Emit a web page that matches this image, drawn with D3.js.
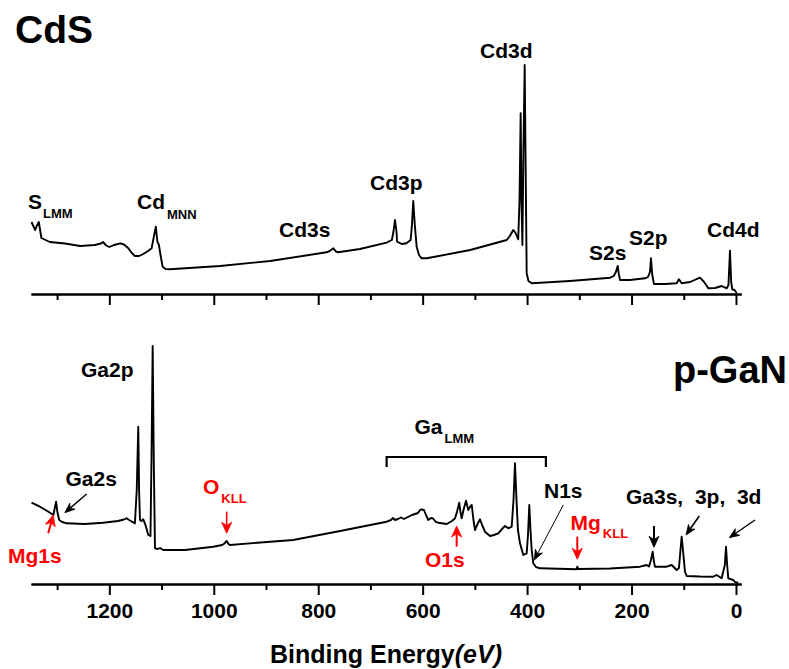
<!DOCTYPE html>
<html>
<head>
<meta charset="utf-8">
<script src="https://cdn.jsdelivr.net/npm/d3@7"></script>
<style>
  html, body { margin: 0; padding: 0; background: #fff; }
  svg { display: block; }
  text { font-family: "Liberation Sans", Arial, Helvetica, sans-serif; font-weight: bold; }
</style>
</head>
<body>
<svg id="chart" width="789" height="669"></svg>
<script>
// XPS survey spectra: binding energy (eV) vs. intensity (a.u.)
const energyCdS = [1349,1342,1339,1335,1332,1330,1314,1285,1256,1228,1216,1212,1206,1200,1191,1179,1172,1164,1157,1151,1143,1135,1126,1119,1116,1111,1108,1105,1102,1098,1092,1084,988,892,784,778,771,766,762,720,669,659,656,653,650,649,640,631,623,620.5,618,615,611.5,607,602,592,509,439,433,426.5,422,417,414.5,412.3,410.8,409,407,404.6,402.7,400.8,397.4,391,318,241,234,230,226.5,224.4,222,203,174,168.5,164.7,162.8,160.3,157,136,113.6,109.2,104,88,69,61,53,40,27.4,17.8,14.4,11.5,9.2,7.1,2.9,-1.3];
const countsCdS = [72,64,68,72,62,56,52,50.5,48,49,50.5,52,48.5,47,49,50.7,49.5,46,41,38,38,40,43,45.7,54,67.3,52.3,49,39,27.3,25,24.7,28,33,41.7,43,45.7,42.5,41.7,45,51.3,54,62,74,62,52.3,50,50.7,54,69,93,69,47.3,39,35.7,35.7,44,54,58,64,61,54.7,94,180.7,94,49,144,229,124,20.7,13,10.7,13,16.3,18,22,28,20,14,14,15.7,17,22,35.7,19,10,10,10.7,14.7,10.7,12,16.3,12,5.7,6,8,5.7,9,43.3,12,4.7,4,1];

const energyGaN = [1349,1333,1319,1307,1304.5,1302,1299.5,1296,1290,1282,1247,1212,1183.5,1172,1167,1160.5,1151,1147.5,1144.6,1143,1141.3,1138.5,1135,1130.8,1125.4,1121.2,1119.3,1117,1114.9,1112.6,1107,1103,1096.7,1055,1001,984,979.5,975.3,971.7,969,892,848,758,669,660.7,656.8,653,647.3,641.5,635.8,620.5,609,605,602,597.5,593.6,589.2,584,580.2,574.5,570,554,543.8,538,534.3,530,527.6,525.3,521.8,517,512.6,509.4,506,502.7,499.8,494,490.2,485.4,480.7,471,463.4,455.2,448,442.4,436,429.5,426,423.2,420.3,417.5,413.6,407.3,400.8,398.3,395.8,393.5,391.2,388.2,383,375.3,305,303.9,301.6,241.3,183.8,171,166.6,162.8,159.5,157,155.1,132.7,123.1,113.6,109.2,106.3,104,101.5,97.7,94.4,69,43.5,37,27.4,21.4,19.1,16.9,14.7,5.2,1.9,-4.4];
const countsGaN = [81.3,77.3,73,69,76,82.3,72,64,62,60.7,60,61.3,63,64.5,65.7,63.5,60.7,94,157.3,94,64,63,64.7,59,49,48,124,238,124,35.7,35,36,34,34,37.3,39,40.5,43,40,39,42.3,44,53,62.3,64,66,64,65,66.5,65,69,71,74,74.7,74,69,64,66,65.5,62,61.3,60,63,65.7,72,81.3,72,65.7,74,83.3,74,77,79,64,54,61,64.7,58,52.3,48,49,50.7,55,58,55.7,57.3,84,120.7,84,54,40.7,29,30.7,49,79,54,34,20.7,17,15.7,14.7,17.3,15,15.5,17.3,19,17.5,24,32.3,22,17.3,17.3,19,14,16,34,47.3,34,12.3,8,7.5,7.3,9,5.7,19,37.3,19,5.7,4,2,1];

// axis ticks (eV)
const majorTicks = [1200, 1000, 800, 600, 400, 200, 0];
const minorTicks = [1300, 1100, 900, 700, 500, 300, 100];

const svg = d3.select("#chart");

const x = d3.scaleLinear().domain([1350, -10]).range([31, 741.2]);
const yTop = d3.scaleLinear().domain([0, 229]).range([294, 65]);
const yBot = d3.scaleLinear().domain([0, 238]).range([584, 346]);

function drawAxis(yPos, labels) {
  const gMinor = svg.append("g").attr("transform", `translate(0,${yPos})`)
    .call(d3.axisBottom(x).tickValues(minorTicks).tickSize(6).tickSizeOuter(0).tickFormat(""));
  const gMajor = svg.append("g").attr("transform", `translate(0,${yPos})`)
    .call(d3.axisBottom(x).tickValues(majorTicks).tickSize(11).tickSizeOuter(0)
      .tickFormat(labels ? d3.format("d") : ""));
  [gMinor, gMajor].forEach(g => {
    g.selectAll("path.domain").attr("stroke", "#000").attr("stroke-width", 2);
    g.selectAll(".tick line").attr("stroke", "#000").attr("stroke-width", 2);
  });
  gMajor.selectAll(".tick text")
    .attr("y", 34).attr("dy", null)
    .attr("fill", "#000")
    .style("font-size", "21px")
    .style("font-family", "'Liberation Sans', Arial, sans-serif")
    .style("font-weight", "bold");
}

drawAxis(294, false);
drawAxis(584, true);

function drawSpectrum(energy, counts, yScale) {
  const pts = energy.map((e, i) => [e, counts[i]]);
  svg.append("path")
    .datum(pts)
    .attr("fill", "none")
    .attr("stroke", "#000")
    .attr("stroke-width", 1.9)
    .attr("stroke-linejoin", "round")
    .attr("d", d3.line().x(d => x(d[0])).y(d => yScale(d[1])));
}
drawSpectrum(energyCdS, countsCdS, yTop);
drawSpectrum(energyGaN, countsGaN, yBot);

// text helpers
function label(px, py, txt, size, color) {
  return svg.append("text").attr("x", px).attr("y", py)
    .attr("fill", color || "#000").style("font-size", size + "px").text(txt);
}
function subLabel(px, py, main, sub, subDx, subDy, color) {
  const t = svg.append("text").attr("x", px).attr("y", py).attr("fill", color || "#000")
    .style("font-size", "21px");
  t.append("tspan").text(main);
  t.append("tspan").attr("dx", subDx).attr("dy", subDy).style("font-size", "13px").text(sub);
}

// panel titles
label(15, 43, "CdS", 39);
label(673, 383, "p-GaN", 38);

// CdS peak labels
subLabel(28, 209, "S", "LMM", 1, 9);
subLabel(137, 209, "Cd", "MNN", 2, 10);
label(279, 237, "Cd3s", 21);
label(370, 190, "Cd3p", 21);
label(480, 58, "Cd3d", 21);
label(589, 260, "S2s", 21);
label(629, 245, "S2p", 21);
label(707, 236.5, "Cd4d", 21);

// p-GaN peak labels
label(81, 376.5, "Ga2p", 21);
label(65.5, 486, "Ga2s", 21);
label(8, 563, "Mg1s", 21, "#ff0000");
subLabel(203, 494, "O", "KLL", 2, 9, "#ff0000");
subLabel(414.5, 434, "Ga", "LMM", 2, 9);
label(544, 498, "N1s", 21);
subLabel(570.5, 530, "Mg", "KLL", 2, 7.5, "#ff0000");
label(425, 566.5, "O1s", 21, "#ff0000");
svg.append("text").attr("x", 626).attr("y", 504).attr("fill", "#000")
  .style("font-size", "21px").attr("xml:space", "preserve")
  .style("white-space", "pre").text("Ga3s,  3p,  3d");

// arrows: tail and tip given in energy / intensity of the panel
function arrow(e1, i1, e2, i2, yScale, color, width, head) {
  const x1 = x(e1), y1 = yScale(i1), x2 = x(e2), y2 = yScale(i2);
  const ang = Math.atan2(y2 - y1, x2 - x1);
  const L = head.len, W = head.wid;
  const bx = x2 - L * Math.cos(ang), by = y2 - L * Math.sin(ang);
  const nx = -Math.sin(ang), ny = Math.cos(ang);
  const notchX = x2 - L * 0.7 * Math.cos(ang), notchY = y2 - L * 0.7 * Math.sin(ang);
  svg.append("line")
    .attr("x1", x1).attr("y1", y1).attr("x2", notchX).attr("y2", notchY)
    .attr("stroke", color).attr("stroke-width", width);
  svg.append("path")
    .attr("d", `M${x2},${y2} L${bx + nx * W / 2},${by + ny * W / 2} L${notchX},${notchY} L${bx - nx * W / 2},${by - ny * W / 2} Z`)
    .attr("fill", color).attr("stroke", color).attr("stroke-width", 0.8)
    .attr("stroke-linejoin", "round");
}
const red = "#ff0000";
const bigHead = { len: 11, wid: 10 };
const smallHead = { len: 10, wid: 8 };
arrow(1243.4, 90, 1285.3, 71.3, yBot, "#000", 1.4, smallHead);     // Ga2s
arrow(1317, 50.7, 1307.5, 69, yBot, red, 2, bigHead);             // Mg1s
arrow(975.3, 72.3, 975.3, 50.7, yBot, red, 1.6, bigHead);          // O KLL
arrow(534.9, 37.3, 534.9, 58, yBot, red, 2, bigHead);              // O1s
arrow(330.7, 79, 386.3, 24, yBot, "#000", 1, smallHead);           // N1s
arrow(303.9, 47.3, 303.9, 24.7, yBot, red, 2, bigHead);            // Mg KLL
arrow(157, 58, 157, 36.7, yBot, "#000", 2, bigHead);               // Ga3s
arrow(70.3, 68, 95.7, 49, yBot, "#000", 1.6, smallHead);           // Ga3p
arrow(-36.4, 64, 12.8, 46.3, yBot, "#000", 1.4, smallHead);        // Ga3d

// bracket spanning the Ga LMM Auger region
const bL = x(669), bR = x(364), bY = yBot(127), bLeg = yBot(117);
svg.append("path")
  .attr("d", `M${bL},${bLeg} L${bL},${bY} L${bR},${bY} L${bR},${bLeg}`)
  .attr("fill", "none").attr("stroke", "#000").attr("stroke-width", 2.2);

// axis title
const title = svg.append("text").attr("x", 270).attr("y", 663).attr("fill", "#000")
  .style("font-size", "25px");
title.append("tspan").text("Binding Energy");
title.append("tspan").style("font-style", "italic").text("(eV)");
</script>
</body>
</html>
